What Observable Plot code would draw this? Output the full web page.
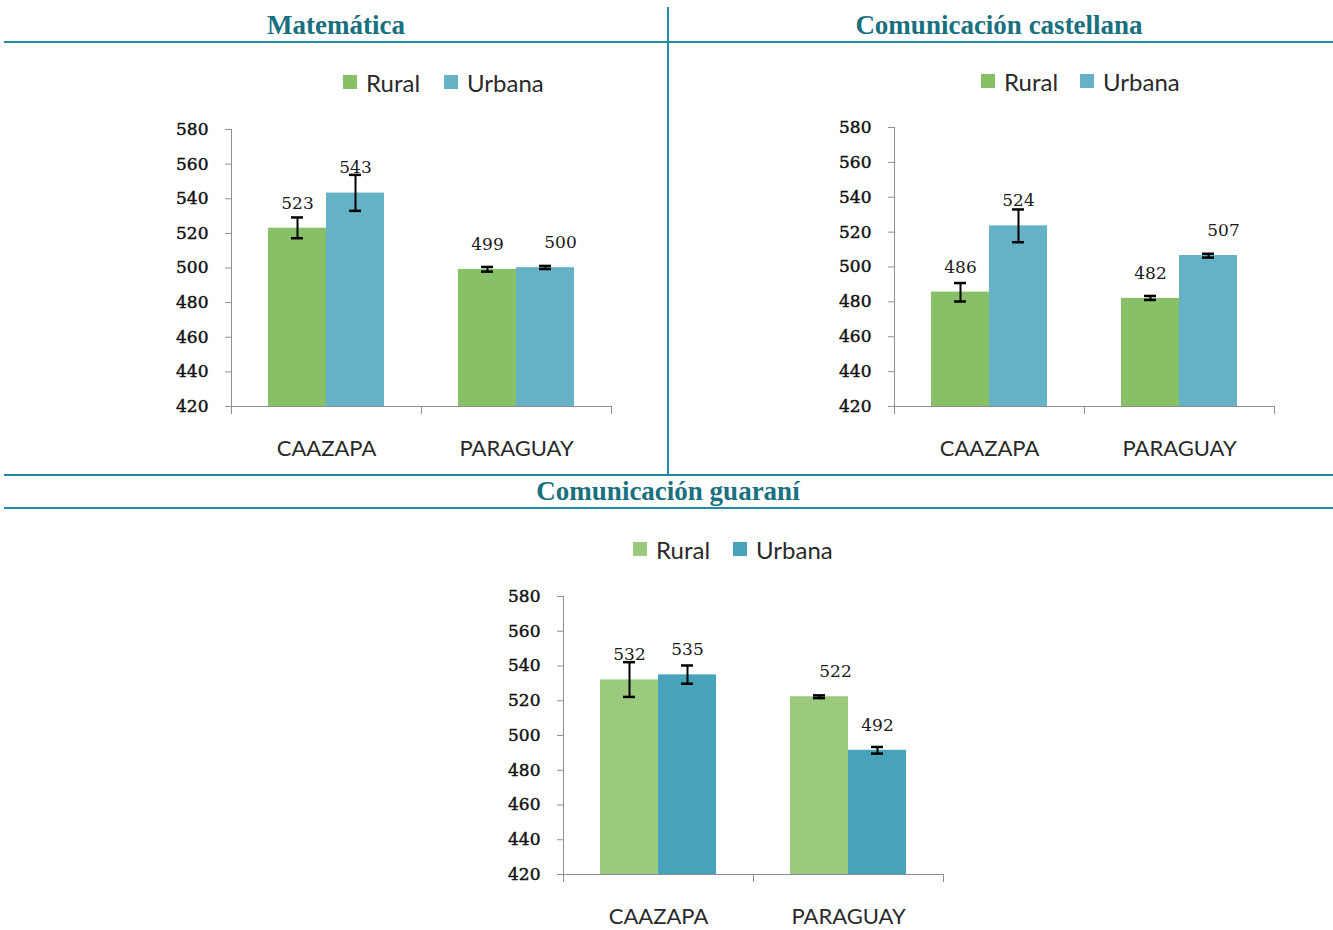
<!DOCTYPE html>
<html>
<head>
<meta charset="utf-8">
<script src="https://cdn.jsdelivr.net/npm/d3@7"></script>
<script src="https://cdn.jsdelivr.net/npm/@observablehq/plot@0.6"></script>
<style>
  body { margin: 0; background: #fff; }
  #root { position: relative; width: 1333px; height: 930px; overflow: hidden; background: #fff; }
  .hline, .vline { position: absolute; background: #1f8ba6; }
  .title { position: absolute; font-family: "Liberation Serif", serif; font-weight: bold; font-size: 27px;
           color: #19707f; line-height: 1; white-space: nowrap; transform: translateX(-50%); }
  .legend-item { position: absolute; display: flex; align-items: center; height: 30px;
                 font-family: Lato, sans-serif; font-size: 24px; color: #2a2a2a; white-space: nowrap; }
  .sw { width: 14px; height: 14px; margin-right: 9px; flex: none; }
  .chart { position: absolute; }
  .chart svg { overflow: visible; }
</style>
</head>
<body>
<div id="root"></div>
<script>
// ---------- data ----------
const categories = ["CAAZAPA", "PARAGUAY"];
const groups = ["Rural", "Urbana"];
const yTicks = [420, 440, 460, 480, 500, 520, 540, 560, 580];
// order of values: CAAZAPA-Rural, CAAZAPA-Urbana, PARAGUAY-Rural, PARAGUAY-Urbana
const matematicaValues = [523, 543.3, 499.2, 500.2];
const matematicaLow    = [517.2, 533.0, 497.9, 499.4];
const matematicaHigh   = [529.2, 553.8, 500.6, 501.2];

const castellanaValues = [485.6, 523.6, 482.0, 506.6];
const castellanaLow    = [480.2, 514.2, 481.1, 505.4];
const castellanaHigh   = [490.8, 533.0, 483.4, 507.6];

const guaraniValues = [532.0, 534.9, 522.3, 491.5];
const guaraniLow    = [522.2, 529.8, 521.5, 489.6];
const guaraniHigh   = [542.2, 540.3, 523.1, 493.4];

function buildRows(values, low, high) {
  return values.map((v, i) => ({
    category: categories[Math.floor(i / 2)],
    group: groups[i % 2],
    value: v, low: low[i], high: high[i]
  }));
}

// ---------- layout ----------
const root = document.getElementById("root");
function addDiv(cls, style, text) {
  const d = document.createElement("div");
  d.className = cls;
  Object.assign(d.style, style);
  if (text != null) d.textContent = text;
  root.appendChild(d);
  return d;
}
// frame lines
addDiv("hline", {left: "4px", top: "41px", width: "1329px", height: "2px"});
addDiv("vline", {left: "667px", top: "7px", width: "2px", height: "468px"});
addDiv("hline", {left: "4px", top: "474px", width: "1329px", height: "2px"});
addDiv("hline", {left: "4px", top: "507px", width: "1329px", height: "2px"});

const AX = "#8f8f8f";
const panels = [
  {
    title: "Matemática", titleX: 336, titleTop: 12,
    rows: buildRows(matematicaValues, matematicaLow, matematicaHigh),
    colors: ["#87c066", "#65b1c6"],
    left: 150, top: 109, innerW: 381, innerH: 277,
    shifted: [["PARAGUAY", "Urbana"]], shift: 15,
    legendTop: 67, legendX: [343, 444]
  },
  {
    title: "Comunicación castellana", titleX: 999, titleTop: 12,
    rows: buildRows(castellanaValues, castellanaLow, castellanaHigh),
    colors: ["#87c066", "#65b1c6"],
    left: 813, top: 107, innerW: 381, innerH: 279,
    shifted: [["PARAGUAY", "Urbana"]], shift: 15,
    legendTop: 66, legendX: [981, 1080]
  },
  {
    title: "Comunicación guaraní", titleX: 668, titleTop: 478,
    rows: buildRows(guaraniValues, guaraniLow, guaraniHigh),
    colors: ["#9bca7d", "#47a3b9"],
    left: 483, top: 576, innerW: 380, innerH: 278,
    shifted: [["PARAGUAY", "Rural"]], shift: 16,
    legendTop: 534, legendX: [633, 733]
  }
];

function drawPanel(p) {
  const mL = 80, mR = 20, mT = 20, mB = 62;
  const isShifted = d => p.shifted.some(([c, g]) => c === d.category && g === d.group);
  const textOpts = {fx: "category", x: "group", y: "value", text: d => String(Math.round(d.value)),
                    dy: -25, fontSize: 17, fontFamily: "DejaVu Serif", fill: "#1a1a1a"};
  const chart = Plot.plot({
    width: mL + p.innerW + mR,
    height: mT + p.innerH + mB,
    marginLeft: mL, marginRight: mR, marginTop: mT, marginBottom: mB,
    style: {background: "transparent", overflow: "visible"},
    fx: {domain: categories, padding: 0},
    x: {domain: groups, paddingInner: 0, paddingOuter: 0.616, axis: null},
    y: {domain: [420, 580]},
    color: {domain: groups, range: p.colors},
    marks: [
      Plot.barY(p.rows, {fx: "category", x: "group", y1: 420, y2: "value", fill: "group"}),
      Plot.frame({anchor: "bottom", stroke: AX}),
      Plot.frame({anchor: "left", facetAnchor: "left", insetBottom: -7, stroke: AX}),
      Plot.frame({anchor: "right", insetTop: p.innerH, insetBottom: -7, stroke: AX}),
      Plot.axisY({ticks: yTicks, tickSize: 6, tickPadding: 17, stroke: AX, fill: "#111",
                  textStroke: "#111", textStrokeWidth: 0.45,
                  fontSize: 17, fontFamily: "DejaVu Serif", label: null}),
      Plot.axisFx({anchor: "bottom", tickSize: 0, tickPadding: 34, fontSize: 22, fontFamily: "Lato",
                   fill: "#2a2a2a", label: null}),
      Plot.ruleX(p.rows, {fx: "category", x: "group", y1: "low", y2: "high", stroke: "#000", strokeWidth: 2}),
      Plot.tickY(p.rows, {fx: "category", x: "group", y: "low", inset: 23, stroke: "#000", strokeWidth: 2.5}),
      Plot.tickY(p.rows, {fx: "category", x: "group", y: "high", inset: 23, stroke: "#000", strokeWidth: 2.5}),
      Plot.text(p.rows, {...textOpts, filter: d => !isShifted(d)}),
      Plot.text(p.rows, {...textOpts, filter: isShifted, dx: p.shift})
    ]
  });
  const holder = addDiv("chart", {left: p.left + "px", top: p.top + "px"});
  holder.appendChild(chart);

  addDiv("title", {left: p.titleX + "px", top: p.titleTop + "px"}, p.title);

  groups.forEach((g, i) => {
    const item = addDiv("legend-item", {left: p.legendX[i] + "px", top: p.legendTop + "px"});
    const sw = document.createElement("span");
    sw.className = "sw";
    sw.style.background = p.colors[i];
    const t = document.createElement("span");
    t.textContent = g;
    item.appendChild(sw);
    item.appendChild(t);
  });
}
panels.forEach(drawPanel);
</script>
</body>
</html>
